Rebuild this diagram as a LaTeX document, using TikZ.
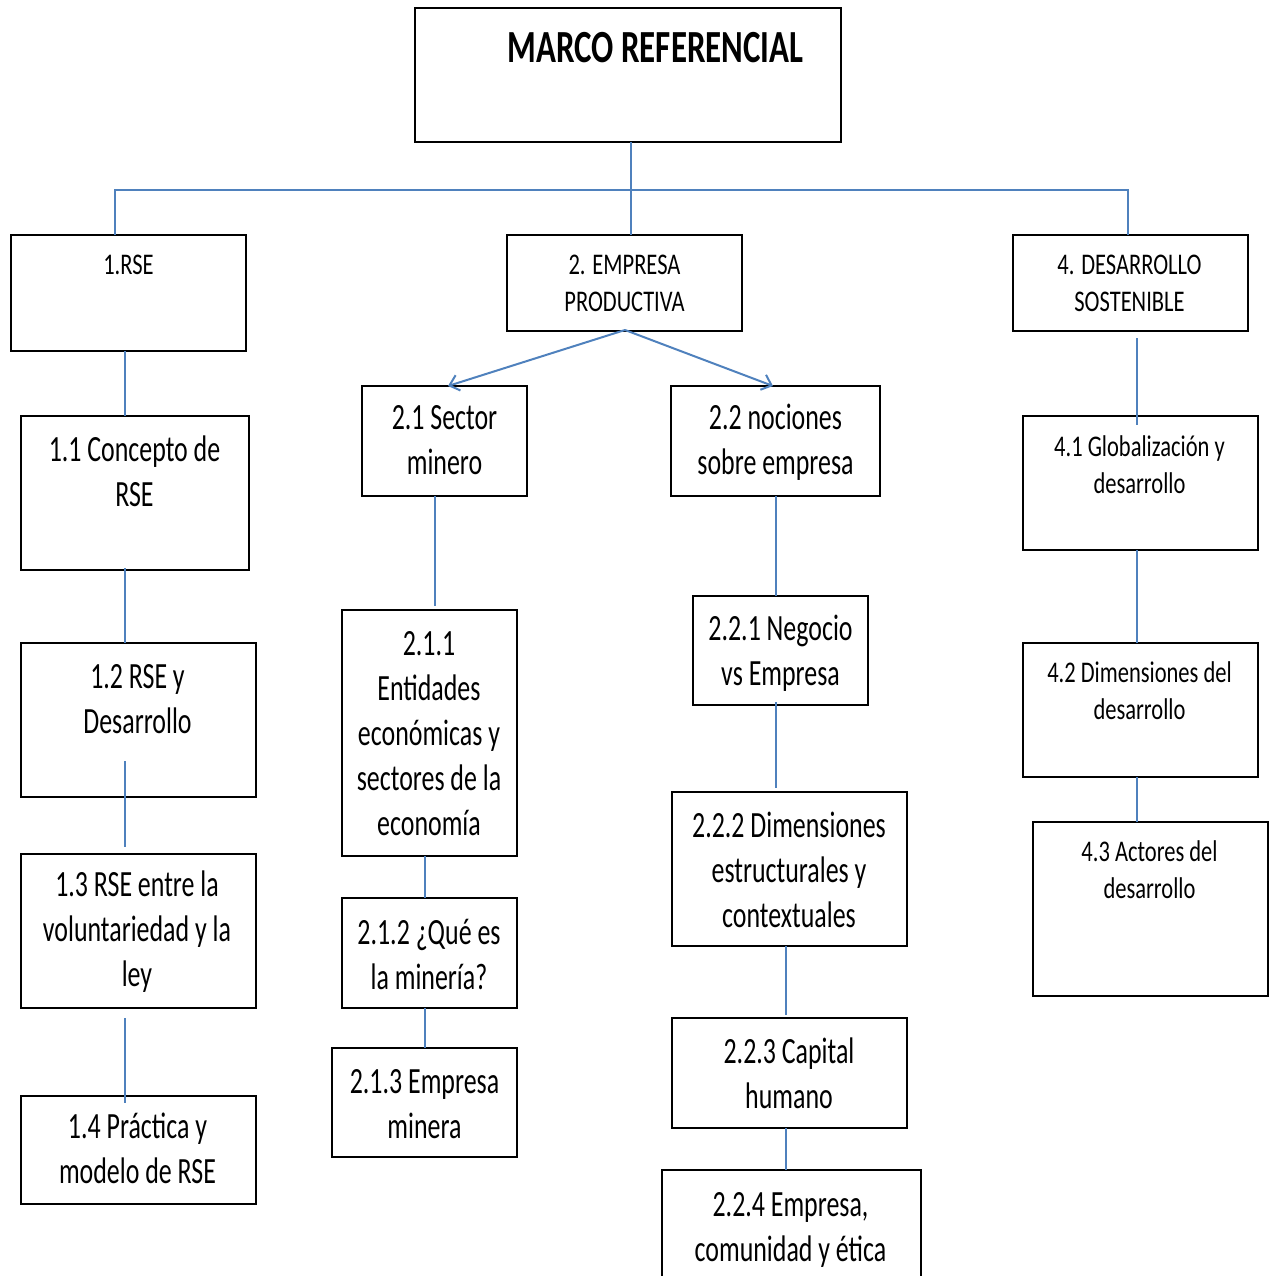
\documentclass[tikz,border=0pt]{standalone}
\usepackage{fontspec}
\setmainfont{Carlito}[FakeStretch=0.7]
\newfontfamily\labelfont{Carlito}[FakeStretch=0.75]
\newfontfamily\headfont{Carlito}[FakeStretch=0.715]
\usetikzlibrary{arrows.meta,calc}
\definecolor{linkblue}{HTML}{4F81BD}
\newcommand\firstline{\rule{0pt}{1em}}
% box with corners (x1,y1) and (x2,y2), in pixel-like units
\newcommand\bx[5]{\node[box,minimum width={(#4-#2)*1pt},minimum height={(#5-#3)*1pt},anchor=north west] (#1) at (#2,#3) {};}
\begin{document}
\begin{tikzpicture}[x=1pt,y=-1pt,
  box/.style={draw=black,line width=2pt,fill=white,inner sep=0pt,outer sep=0pt},
  txt/.style={align=center,inner sep=0pt,anchor=north,font=\fontsize{37}{45}\selectfont},
  smalltxt/.style={align=center,inner sep=0pt,anchor=north,font=\labelfont\fontsize{30}{37}\selectfont},
  titletxt/.style={inner sep=0pt,anchor=north,font=\headfont\bfseries\fontsize{46}{54}\selectfont},
  conn/.style={draw=linkblue,line width=2pt},
  arr/.style={conn,-{Straight Barb[length=9pt,width=16pt,line width=2pt]}}]
\useasboundingbox (0,0) rectangle (1272,1276);
\clip (0,0) rectangle (1272,1276);

% boxes
\bx{top}{415}{8}{841}{142}
\bx{n1}{11}{235}{246}{351}
\bx{n2}{507}{235}{742}{331}
\bx{n4}{1013}{235}{1248}{331}
\bx{n11}{21}{416}{249}{570}
\bx{n12}{21}{643}{256}{797}
\bx{n13}{21}{854}{256}{1008}
\bx{n14}{21}{1096}{256}{1204}
\bx{n21}{362}{386}{527}{496}
\bx{n211}{342}{610}{517}{856}
\bx{n212}{342}{898}{517}{1008}
\bx{n213}{332}{1048}{517}{1157}
\bx{n22}{671}{386}{880}{496}
\bx{n221}{693}{596}{868}{705}
\bx{n222}{672}{792}{907}{946}
\bx{n223}{672}{1018}{907}{1128}
\bx{n224}{662}{1170}{921}{1300}
\bx{n41}{1023}{416}{1258}{550}
\bx{n42}{1023}{643}{1258}{777}
\bx{n43}{1033}{822}{1268}{996}

% labels
\node[titletxt] (ttop) at (655.5,16) {\firstline MARCO REFERENCIAL};
\node[smalltxt] (t1) at (128.5,244) {\firstline 1.RSE};
\node[smalltxt] (t2) at (624.5,244) {\firstline 2. EMPRESA\\PRODUCTIVA};
\node[smalltxt] (t4) at (1129.5,244) {\firstline 4. DESARROLLO\\SOSTENIBLE};
\node[txt] (t11) at (134.5,424) {\firstline 1.1 Concepto de\\RSE};
\node[txt] (t12) at (137.5,651) {\firstline 1.2 RSE y\\Desarrollo};
\node[txt] (t13) at (137,859) {\firstline 1.3 RSE entre la\\voluntariedad y la\\ley};
\node[txt] (t14) at (137.5,1101) {\firstline 1.4 Práctica y\\modelo de RSE};
\node[txt] (t21) at (444.5,392) {\firstline 2.1 Sector\\minero};
\node[txt] (t211) at (429,618) {\firstline 2.1.1\\Entidades\\económicas y\\sectores de la\\economía};
\node[txt] (t212) at (429,907) {\firstline 2.1.2 ¿Qué es\\la minería?};
\node[txt] (t213) at (424.5,1056) {\firstline 2.1.3 Empresa\\minera};
\node[txt] (t22) at (775.5,392) {\firstline 2.2 nociones\\sobre empresa};
\node[txt] (t221) at (780.5,603) {\firstline 2.2.1 Negocio\\vs Empresa};
\node[txt] (t222) at (789,800) {\firstline 2.2.2 Dimensiones\\estructurales y\\contextuales};
\node[txt] (t223) at (789,1026) {\firstline 2.2.3 Capital\\humano};
\node[txt] (t224) at (790.5,1179) {\firstline 2.2.4 Empresa,\\comunidad y ética};
\node[smalltxt] (t41) at (1139.5,426) {\firstline 4.1 Globalización y\\desarrollo};
\node[smalltxt] (t42) at (1139.5,652) {\firstline 4.2 Dimensiones del\\desarrollo};
\node[smalltxt] (t43) at (1149.5,831) {\firstline 4.3 Actores del\\desarrollo};

% column positions of the connectors
\coordinate (xa) at (115,0);
\coordinate (xm) at (631,0);
\coordinate (xd) at (1128,0);
\coordinate (xr) at (190,190);
\coordinate (x1) at (125,0);
\coordinate (x2a) at (435,0);
\coordinate (x2b) at (425,0);
\coordinate (x3a) at (776,0);
\coordinate (x3b) at (786,0);
\coordinate (x4) at (1137,0);

% top level branching
\draw[conn] (top.south -| xm) -- (n2.north -| xm);
\draw[conn] (n1.north -| xa) -- (xa |- xr) -- (xd |- xr) -- (n4.north -| xd);

% arrows to the two parts of section 2
\draw[arr] ($(n2.south)+(0.5,-1)$) -- (n21.north -| 448,0);
\draw[arr] ($(n2.south)+(0.5,-1)$) -- (n22.north -| 773,0);

% column 1
\draw[conn] (n1.south -| x1) -- (n11.north -| x1);
\draw[conn] ($(n11.south -| x1)+(0,-2)$) -- (n12.north -| x1);
\draw[conn] ($(n12.south -| x1)+(0,-36)$) -- ($(n13.north -| x1)+(0,-7)$);
\draw[conn] ($(n13.south -| x1)+(0,10)$) -- ($(n14.north -| x1)+(0,7)$);

% column 2
\draw[conn] (n21.south -| x2a) -- ($(n211.north -| x2a)+(0,-4)$);
\draw[conn] (n211.south -| x2b) -- (n212.north -| x2b);
\draw[conn] (n212.south -| x2b) -- (n213.north -| x2b);

% column 3
\draw[conn] (n22.south -| x3a) -- (n221.north -| x3a);
\draw[conn] ($(n221.south -| x3a)+(0,-3)$) -- ($(n222.north -| x3a)+(0,-4)$);
\draw[conn] (n222.south -| x3b) -- ($(n223.north -| x3b)+(0,-3)$);
\draw[conn] (n223.south -| x3b) -- (n224.north -| x3b);

% column 4
\draw[conn] ($(n4.south -| x4)+(0,7)$) -- ($(n41.north -| x4)+(0,9)$);
\draw[conn] (n41.south -| x4) -- (n42.north -| x4);
\draw[conn] (n42.south -| x4) -- (n43.north -| x4);
\end{tikzpicture}
\end{document}
